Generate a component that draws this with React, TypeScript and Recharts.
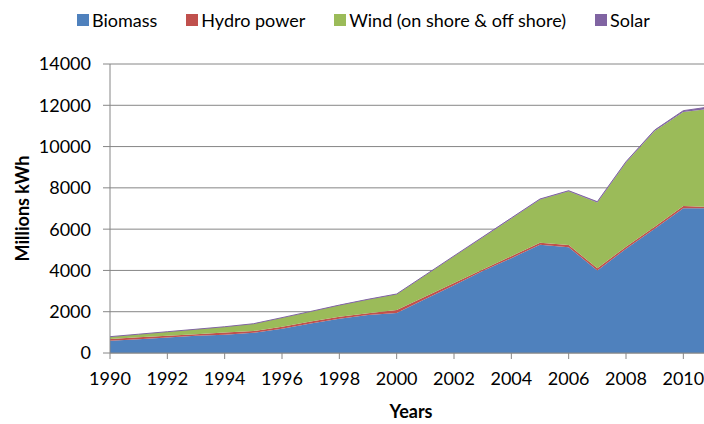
import { AreaChart, Area, XAxis, YAxis, CartesianGrid, Label } from 'recharts';

const years = [1990, 1991, 1992, 1993, 1994, 1995, 1996, 1997, 1998, 1999, 2000, 2001, 2002, 2003, 2004, 2005, 2006, 2007, 2008, 2009, 2010, 2011];
const biomass = [595, 670, 750, 830, 890, 975, 1180, 1425, 1665, 1835, 1940, 2615, 3280, 3970, 4595, 5250, 5125, 3995, 5050, 6020, 7015, 7010];
const hydro = [85, 90, 90, 80, 100, 90, 90, 95, 95, 95, 140, 120, 110, 70, 95, 90, 105, 105, 100, 100, 105, 60];
const wind = [110, 150, 190, 240, 280, 350, 440, 490, 555, 665, 770, 1035, 1300, 1560, 1825, 2090, 2600, 3195, 4080, 4635, 4560, 4770];
const solar = [1, 1, 1, 1, 2, 2, 3, 4, 5, 6, 8, 9, 12, 20, 26, 30, 32, 34, 38, 46, 60, 100];

const seriesKeys = ['biomass', 'hydro', 'wind', 'solar'];
const seriesNames = ['Biomass', 'Hydro power', 'Wind (on shore & off shore)', 'Solar'];
const seriesColors = ['#4F81BD', '#C0504D', '#9BBB59', '#8064A2'];

const xTicks = [1990, 1992, 1994, 1996, 1998, 2000, 2002, 2004, 2006, 2008, 2010];
const yTicks = [0, 2000, 4000, 6000, 8000, 10000, 12000, 14000];

const data = years.map((year, i) => ({
    year,
    biomass: biomass[i],
    hydro: hydro[i],
    wind: wind[i],
    solar: solar[i],
}));

const FONT = 'Lato, "Open Sans", sans-serif';

export default function App() {
    return (
        <div style={{ position: 'absolute', left: 0, top: 0, width: 704, height: 424, overflow: 'hidden', background: '#fff', fontFamily: FONT }}>
            {/* legend sits above the plot, drawn as plain html */}
            <div style={{ position: 'absolute', top: 8, left: 77, height: 24, display: 'flex', alignItems: 'center', gap: 29, fontSize: 18, color: '#000', whiteSpace: 'nowrap', zIndex: 1 }}>
                {seriesNames.map((name, i) => (
                    <div key={name} style={{ display: 'flex', alignItems: 'center', gap: 3 }}>
                        <span style={{ display: 'inline-block', width: 12, height: 12, background: seriesColors[i] }} />
                        <span>{name}</span>
                    </div>
                ))}
            </div>
            <AreaChart width={740} height={424} data={data} margin={{ top: 64, right: 28, left: 0, bottom: 0 }}>
                <CartesianGrid vertical={false} stroke="#868686" strokeWidth={1} />
                <XAxis
                    dataKey="year"
                    type="number"
                    domain={[1990, 2011]}
                    ticks={xTicks}
                    height={71}
                    tickSize={6}
                    tickMargin={13}
                    stroke="#868686"
                    tick={{ fill: '#000', fontSize: 18 }}
                >
                    <Label
                        content={({ viewBox }: any) => (
                            <text
                                x={viewBox.x + viewBox.width / 2}
                                y={viewBox.y + 58}
                                textAnchor="middle"
                                dominantBaseline="central"
                                fontSize={18}
                                fontWeight="bold"
                                fill="#000"
                            >
                                Years
                            </text>
                        )}
                    />
                </XAxis>
                <YAxis
                    width={110}
                    domain={[0, 14000]}
                    ticks={yTicks}
                    tickSize={7}
                    tickMargin={12}
                    stroke="#868686"
                    tick={{ fill: '#000', fontSize: 18 }}
                >
                    <Label
                        content={({ viewBox }: any) => {
                            const cx = 22;
                            const cy = viewBox.y + viewBox.height / 2;
                            return (
                                <text
                                    x={cx}
                                    y={cy}
                                    transform={`rotate(-90, ${cx}, ${cy})`}
                                    textAnchor="middle"
                                    dominantBaseline="central"
                                    fontSize={18}
                                    fontWeight="bold"
                                    fill="#000"
                                >
                                    Millions kWh
                                </text>
                            );
                        }}
                    />
                </YAxis>
                {seriesKeys.map((key, i) => (
                    <Area
                        key={key}
                        type="linear"
                        dataKey={key}
                        name={seriesNames[i]}
                        stackId="1"
                        fill={seriesColors[i]}
                        fillOpacity={1}
                        stroke={key === 'solar' ? seriesColors[i] : 'none'}
                        strokeWidth={1}
                        isAnimationActive={false}
                    />
                ))}
            </AreaChart>
        </div>
    );
}
